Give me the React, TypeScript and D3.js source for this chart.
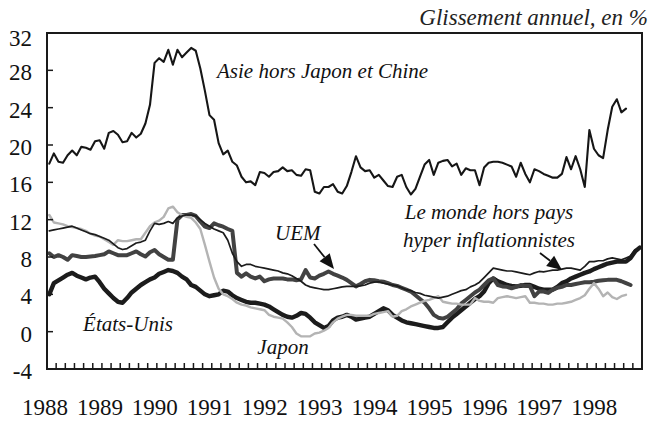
import * as d3 from 'd3'

// Glissement annuel, en %, données mensuelles à partir de janvier 1988
const years = ['1988', '1989', '1990', '1991', '1992', '1993', '1994', '1995', '1996', '1997', '1998']
const yTicks = [-4, 0, 4, 8, 12, 16, 20, 24, 28, 32]
const monthCount = 130

const asie = [
  18.0, 19.1, 18.2, 18.1, 18.9, 19.4, 18.9, 19.8, 19.7, 19.5, 20.4, 20.5,
  19.6, 21.3, 21.5, 21.1, 20.3, 20.4, 21.3, 20.8, 21.2, 22.3, 24.3, 28.8,
  29.3, 28.9, 30.2, 28.6, 30.2, 29.4, 29.9, 30.4, 30.1, 28.2, 25.8, 23.2,
  22.7, 20.2, 19.0, 19.4, 18.2, 17.8, 16.6, 16.0, 16.1, 15.7, 17.1, 17.0,
  16.6, 17.1, 17.2, 17.6, 17.2, 17.3, 16.8, 16.7, 17.4, 17.3, 15.0, 14.8,
  15.5, 15.5, 15.8, 15.0, 14.8, 15.6, 17.1, 18.8, 17.6, 17.2, 17.3, 16.5,
  16.8, 16.2, 15.6, 15.5, 16.6, 16.8, 15.5, 14.7, 15.3, 16.6, 17.9, 18.4,
  16.8, 18.1, 18.3, 18.4, 17.7, 18.0, 16.8, 17.5, 17.3, 17.3, 15.7, 17.6,
  18.1, 18.2, 18.2, 18.1, 17.9, 17.7, 16.6, 18.1, 16.9, 16.0, 17.4, 17.2,
  16.9, 16.7, 16.5, 16.5, 16.9, 18.7, 17.4, 18.8, 17.4, 15.5, 21.6, 19.6,
  18.9, 18.6, 21.6, 24.1, 24.9, 23.5, 23.9,
]

const monde = [
  10.8, 10.9, 11.0, 11.1, 11.2, 11.3, 11.1, 10.9, 10.7, 10.5, 10.4, 10.2,
  10.0, 9.8, 9.4, 9.0, 8.8, 8.9, 9.2, 9.5, 9.6, 9.8, 10.8, 11.6,
  11.5, 11.6, 11.8, 11.6, 12.2, 12.4, 12.5, 12.5, 12.4, 12.0, 11.6, 11.3,
  11.0, 10.8, 10.6, 9.8, 8.4, 7.5, 7.0, 7.2, 7.2, 7.0, 6.9, 6.8,
  6.7, 6.6, 6.5, 6.3, 6.2, 6.0, 5.7, 5.4, 5.0, 4.8, 4.7, 4.6,
  4.5, 4.5, 4.6, 4.7, 4.8, 4.85, 4.85, 4.85, 4.9, 5.0, 5.2, 5.3,
  5.35, 5.2, 5.1, 5.0, 4.9, 4.7, 4.5, 4.4, 4.2, 4.1, 3.9, 3.8,
  3.7, 3.6, 3.7, 3.8, 4.0, 4.2, 4.4, 4.5, 4.8, 5.0, 5.3, 5.8,
  6.3, 6.8, 6.7, 6.6, 6.5, 6.5, 6.4, 6.3, 6.2, 6.1, 6.3, 6.45,
  6.4, 6.5, 6.6, 6.6, 6.7, 6.8, 6.8, 6.7, 6.6, 7.0, 7.5, 7.5,
  7.6, 7.6, 7.8, 7.9, 7.8, 7.7, 7.9, 8.1, 8.8,
]

const uem = [
  8.4, 8.0, 8.2, 8.0, 7.7, 8.2, 8.1, 8.0, 8.0, 8.05, 8.1, 8.2,
  8.3, 8.6, 8.4, 8.2, 8.2, 8.2, 8.4, 8.6, 8.3, 8.05, 8.5, 8.75,
  8.3, 8.0, 7.7, 7.7, 12.0, 12.5, 12.5, 12.6, 12.4, 11.8, 11.25, 11.1,
  11.6, 11.4, 11.25, 11.0, 10.8, 6.3, 5.9, 6.25, 5.9, 5.7, 5.9, 5.4,
  5.6, 5.7, 5.7, 5.7, 5.6, 5.6, 5.5, 5.6, 6.6, 5.8, 5.7, 6.0,
  6.2, 6.45, 6.2, 6.0, 5.8, 5.55, 5.2, 4.85, 5.1, 5.4, 5.55, 5.5,
  5.4, 5.35, 5.2, 5.0, 4.9, 4.7, 4.5, 4.3, 3.9, 3.5, 3.1, 2.5,
  1.8, 1.5, 1.4, 1.6, 2.0, 2.4, 3.0, 3.4, 3.8, 4.2, 4.5, 5.0,
  5.5, 5.7, 5.0, 4.85, 4.8, 4.65, 4.8, 5.0, 4.9, 4.9, 3.8, 4.3,
  4.3, 4.15, 4.5, 4.7, 4.8, 5.0, 5.0, 5.1, 5.2, 5.3, 5.3, 5.35,
  5.45, 5.5, 5.55, 5.55, 5.55, 5.4, 5.2, 5.0,
]

const etatsUnis = [
  4.0, 5.2, 5.5, 5.8, 6.1, 6.3, 6.0, 5.8, 5.6, 5.8, 5.9, 5.3,
  4.6, 4.1, 3.6, 3.2, 3.1, 3.6, 4.2, 4.6, 5.0, 5.3, 5.6, 5.8,
  6.2, 6.4, 6.6, 6.5, 6.3, 5.9, 5.6, 5.0, 4.8, 4.4, 4.0, 3.8,
  3.9, 4.0, 4.4, 4.3, 3.9, 3.6, 3.4, 3.2, 3.1, 3.1, 3.0, 2.9,
  2.7, 2.4, 2.1, 1.8, 1.6, 1.5, 1.7, 2.0, 1.9, 1.5, 1.0, 0.7,
  0.4, 0.6, 1.2, 1.5, 1.6, 1.8, 1.6, 1.3, 1.4, 1.5, 1.6, 1.9,
  2.2, 2.5, 2.3, 1.8, 1.5, 1.2, 1.0, 0.9, 0.8, 0.7, 0.6, 0.5,
  0.4, 0.4, 0.5, 1.0, 1.5, 1.9, 2.3, 2.7, 3.1, 3.5, 3.8, 4.3,
  5.2, 5.7, 5.4, 5.2, 5.0, 4.9, 4.85, 4.9, 5.0, 5.0, 4.8, 4.6,
  4.5, 4.5, 4.5, 4.8, 5.2, 5.4, 5.7, 5.9, 6.1, 6.3, 6.45, 6.7,
  6.9, 7.1, 7.3, 7.4, 7.5, 7.5, 7.5, 7.9, 8.6, 9.0,
]

const japon = [
  12.5, 11.7, 11.6, 11.5, 11.3, 11.2, 11.1, 11.0, 10.8, 10.5, 10.3, 10.2,
  9.9, 9.6, 9.3, 9.8, 9.7, 9.7, 9.8, 9.9, 9.9, 10.6, 11.3, 11.7,
  11.9, 12.3, 13.2, 13.4, 12.8, 12.5, 12.3, 12.2, 11.7, 11.0, 9.3, 7.5,
  5.8, 4.6, 4.0, 3.8, 3.5, 3.1, 2.9, 2.8, 2.6, 2.5, 2.4, 2.3,
  1.8, 1.6, 1.5, 1.4, 1.0, 0.5, -0.2, -0.5, -0.5, -0.5, -0.2, -0.1,
  0.1, 0.4, 1.0, 1.4, 1.6, 1.8, 1.8, 1.7, 1.7, 1.7, 1.7, 1.9,
  2.0, 2.1, 2.2, 1.6, 1.7, 2.2, 2.4, 2.7, 2.9, 3.1, 3.3, 3.4,
  3.6, 3.8, 3.2, 3.1, 3.0, 3.0, 2.9, 2.9, 2.9, 3.6, 3.3, 3.2,
  3.2, 3.1, 3.6, 3.7, 3.8, 3.7, 3.6, 3.7, 3.8, 3.1, 3.1, 3.0,
  3.0, 2.9, 2.9, 3.0, 3.0, 3.1, 3.2, 3.4, 3.6, 3.9, 4.6, 5.2,
  4.6, 3.8, 4.2, 3.7, 3.5, 3.8, 3.95,
]

const W = 660
const H = 423
const plot = { left: 47, right: 642, top: 33, bottom: 369 }
const serif = '"Liberation Serif"'

const series = [
  { name: 'Asie', values: asie, color: '#161616', width: 2.1 },
  { name: 'Etats-Unis', values: etatsUnis, color: '#1c1c1c', width: 4.4 },
  { name: 'UEM', values: uem, color: '#424242', width: 4 },
  { name: 'Japon', values: japon, color: '#b4b4b4', width: 2.4 },
  { name: 'Monde', values: monde, color: '#1c1c1c', width: 1.7 },
]

function Arrow({ x1, y1, x2, y2 }: { x1: number; y1: number; x2: number; y2: number }) {
  const a = Math.atan2(y2 - y1, x2 - x1)
  const len = 15
  const half = 6.5
  const bx = x2 - len * Math.cos(a)
  const by = y2 - len * Math.sin(a)
  const px = -Math.sin(a) * half
  const py = Math.cos(a) * half
  return (
    <g>
      <line x1={x1} y1={y1} x2={bx} y2={by} stroke="#111" strokeWidth={1.8} />
      <path d={`M${x2},${y2}L${bx + px},${by + py}L${bx - px},${by - py}Z`} fill="#111" />
    </g>
  )
}

export default function App() {
  const x = d3.scaleLinear().domain([0, monthCount]).range([plot.left, plot.right])
  const y = d3.scaleLinear().domain([-4, 32]).range([plot.bottom, plot.top])

  const line = d3.line<number>()
    .x((_, i) => x(i + 0.5))
    .y(d => y(d))

  const xTicks = d3.range(0, monthCount, 2)
  const textStyle = { fontFamily: serif }
  const italic = { fontFamily: serif, fontStyle: 'italic' }

  return (
    <div style={{ position: 'absolute', left: 0, top: 0 }}>
      <svg width={W} height={H} viewBox={`0 0 ${W} ${H}`} style={{ display: 'block', background: '#fff' }}>
        <text x={648} y={25} textAnchor="end" style={italic} fontSize={23} fill="#222">
          Glissement annuel, en %
        </text>

        {series.map(s => (
          <path
            key={s.name}
            d={line(s.values) ?? ''}
            fill="none"
            stroke={s.color}
            strokeWidth={s.width}
            strokeLinejoin="round"
            strokeLinecap="round"
          />
        ))}

        <rect
          x={plot.left}
          y={plot.top}
          width={plot.right - plot.left}
          height={plot.bottom - plot.top}
          fill="none"
          stroke="#1a1a1a"
          strokeWidth={2}
        />

        {yTicks.map(t => (
          <g key={t}>
            <line x1={plot.left} x2={plot.left + 6} y1={y(t)} y2={y(t)} stroke="#1a1a1a" strokeWidth={1.5} />
            <text
              x={32}
              y={Math.max(y(t) + 2, 38)}
              dy="0.35em"
              textAnchor="end"
              style={textStyle}
              fontSize={23}
              fill="#111"
            >
              {t}
            </text>
          </g>
        ))}

        {xTicks.map(t => (
          <line key={t} x1={x(t)} x2={x(t)} y1={plot.bottom} y2={plot.bottom - 6} stroke="#1a1a1a" strokeWidth={1.5} />
        ))}

        {years.map((yr, k) => (
          <text key={yr} x={x(k * 12) - 2} y={415} textAnchor="middle" style={textStyle} fontSize={23} fill="#111">
            {yr}
          </text>
        ))}

        <g style={italic} fontSize={21} fill="#111">
          <text x={217} y={78}>Asie hors Japon et Chine</text>
          <text x={275} y={240}>UEM</text>
          <text x={489} y={219} textAnchor="middle">Le monde hors pays</text>
          <text x={489} y={247} textAnchor="middle">hyper inflationnistes</text>
          <text x={128} y={331} textAnchor="middle">États-Unis</text>
          <text x={283} y={354} textAnchor="middle">Japon</text>
        </g>

        <Arrow x1={314} y1={244} x2={334} y2={269} />
        <Arrow x1={540} y1={253} x2={562} y2={270} />
      </svg>
    </div>
  )
}
